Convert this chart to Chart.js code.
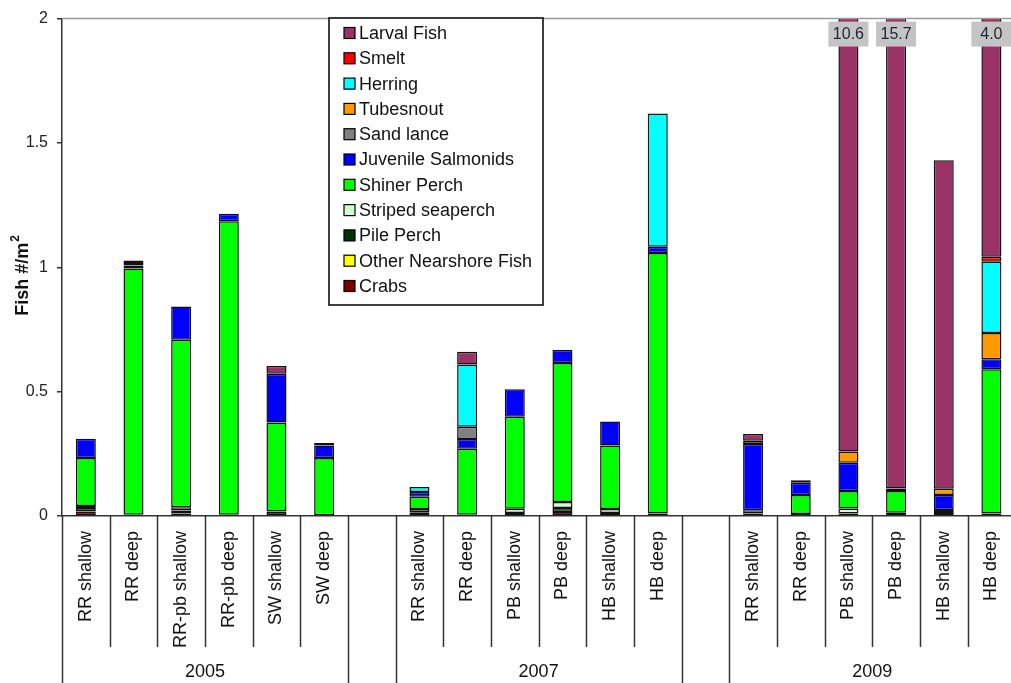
<!DOCTYPE html>
<html lang="en">
<head>
<meta charset="UTF-8" />
<title>Fish density by site</title>
<script src="https://cdn.jsdelivr.net/npm/chart.js@4.4.0/dist/chart.umd.min.js"></script>
<style>
  html, body { margin: 0; padding: 0; background: #fff; overflow: hidden; }
  #fishChart { display: block; }
</style>
</head>
<body>
<canvas id="fishChart" width="1020" height="683"></canvas>
<script>
// categories ('' = gap between years)
const sites = [
  "RR shallow", "RR deep", "RR-pb shallow", "RR-pb deep", "SW shallow", "SW deep", "",
  "RR shallow", "RR deep", "PB shallow", "PB deep", "HB shallow", "HB deep", "",
  "RR shallow", "RR deep", "PB shallow", "PB deep", "HB shallow", "HB deep"
];
const years = ["2005", "2007", "2009"];
const yearStart = [0, 7, 14];
const yearSize = 6;
const yTicks = [0, 0.5, 1, 1.5, 2];

// series, bottom of the stack first
const crabs     = [0.018, 0, 0.01, 0, 0, 0, null, 0, 0, 0, 0.016, 0, 0, null, 0, 0, 0, 0, 0, 0];
const otherFish = [0, 0, 0, 0, 0, 0, null, 0, 0, 0, 0, 0, 0, null, 0, 0, 0, 0, 0, 0];
const pilePerch = [0.014, 0.005, 0.012, 0.005, 0.018, 0, null, 0.015, 0.005, 0.012, 0.016, 0.012, 0.01, null, 0.01, 0.008, 0.01, 0.013, 0.012, 0.01];
const striped   = [0.008, 0, 0.013, 0, 0, 0, null, 0.013, 0, 0.017, 0.024, 0.016, 0, null, 0.013, 0, 0.02, 0, 0.012, 0];
const shiner    = [0.193, 0.99, 0.674, 1.18, 0.358, 0.233, null, 0.049, 0.265, 0.37, 0.559, 0.255, 1.048, null, 0, 0.076, 0.071, 0.088, 0, 0.58];
const juvenile  = [0.078, 0.012, 0.133, 0.03, 0.196, 0.05, null, 0.02, 0.04, 0.111, 0.052, 0.097, 0.025, null, 0.267, 0.05, 0.113, 0.01, 0.06, 0.04];
const sandLance = [0, 0, 0, 0, 0, 0.011, null, 0, 0.049, 0, 0, 0, 0, null, 0, 0.01, 0, 0, 0, 0];
const tubesnout = [0, 0, 0, 0, 0, 0, null, 0, 0, 0, 0, 0, 0, null, 0.013, 0, 0.045, 0, 0.026, 0.106];
const herring   = [0, 0.01, 0, 0, 0, 0, null, 0.02, 0.25, 0, 0, 0, 0.535, null, 0, 0, 0, 0, 0, 0.286];
const smelt     = [0, 0, 0, 0, 0, 0, null, 0, 0, 0, 0, 0, 0, null, 0, 0, 0, 0, 0, 0.02];
const larval    = [0, 0.01, 0, 0, 0.031, 0, null, 0, 0.051, 0, 0, 0, 0, null, 0.027, 0, 10.34, 15.59, 1.32, 2.958];

const seriesNames = ["Crabs", "Other Nearshore Fish", "Pile Perch", "Striped seaperch", "Shiner Perch",
  "Juvenile Salmonids", "Sand lance", "Tubesnout", "Herring", "Smelt", "Larval Fish"];
const seriesData = [crabs, otherFish, pilePerch, striped, shiner, juvenile, sandLance, tubesnout, herring, smelt, larval];
const seriesColors = ["#800000", "#FFFF00", "#003300", "#CCFFCC", "#00FF00",
  "#0000FF", "#808080", "#FF9900", "#00FFFF", "#FF0000", "#993366"];

const FONT = "'Liberation Sans', Arial, sans-serif";
const Y_MAX = 2;

const datasets = seriesNames.map((name, i) => ({
  label: name,
  data: seriesData[i].map(v => (v ? v : null)),
  backgroundColor: seriesColors[i],
  borderColor: "#111",
  borderWidth: 1.5,
  borderSkipped: false,
  barPercentage: 0.42,
  categoryPercentage: 1,
  stack: "s"
}));

const extrasPlugin = {
  id: "extras",
  afterDraw(chart) {
    const ctx = chart.ctx;
    const area = chart.chartArea;
    const xs = chart.scales.x;
    const w = (area.right - area.left) / sites.length;
    ctx.save();

    // top frame line
    ctx.strokeStyle = "#9a9a9a";
    ctx.lineWidth = 1.5;
    ctx.beginPath();
    ctx.moveTo(area.left, area.top);
    ctx.lineTo(area.right, area.top);
    ctx.stroke();

    // category separators
    const longEdges = [];
    yearStart.forEach(s => { longEdges.push(s, s + yearSize); });
    ctx.strokeStyle = "#333";
    ctx.lineWidth = 1.5;
    for (let i = 0; i <= sites.length; i++) {
      const x = Math.round(area.left + i * w) + 0.5;
      const long = longEdges.includes(i);
      ctx.beginPath();
      ctx.moveTo(x, area.bottom);
      ctx.lineTo(x, long ? chart.height : area.bottom + 131);
      ctx.stroke();
    }

    // year labels
    ctx.fillStyle = "#111";
    ctx.font = "18px " + FONT;
    ctx.textAlign = "center";
    ctx.textBaseline = "middle";
    years.forEach((yr, k) => {
      const x0 = area.left + yearStart[k] * w;
      const x1 = area.left + (yearStart[k] + yearSize) * w;
      ctx.fillText(yr, (x0 + x1) / 2, 672);
    });

    // totals above the axis max
    sites.forEach((s, idx) => {
      let total = 0;
      seriesData.forEach(arr => { total += arr[idx] || 0; });
      if (total > Y_MAX) {
        const cx = xs.getPixelForValue(idx);
        ctx.fillStyle = "#c4c4c4";
        ctx.fillRect(cx - 20, area.top + 3, 40, 25);
        ctx.fillStyle = "#1c2433";
        ctx.font = "16px " + FONT;
        ctx.textAlign = "center";
        ctx.textBaseline = "middle";
        ctx.fillText(total.toFixed(1), cx, area.top + 16);
      }
    });

    // legend box
    const lx = 329, ly = 18, lw = 214, lh = 287;
    ctx.fillStyle = "#fff";
    ctx.fillRect(lx, ly, lw, lh);
    ctx.strokeStyle = "#000";
    ctx.lineWidth = 1.5;
    ctx.strokeRect(lx, ly, lw, lh);
    ctx.font = "18px " + FONT;
    ctx.textAlign = "left";
    ctx.textBaseline = "middle";
    for (let j = 0; j < seriesNames.length; j++) {
      const i = seriesNames.length - 1 - j;
      const yc = 33 + j * 25.3;
      ctx.fillStyle = seriesColors[i];
      ctx.fillRect(344, yc - 5.5, 11, 11);
      ctx.strokeStyle = "#000";
      ctx.lineWidth = 1.2;
      ctx.strokeRect(344, yc - 5.5, 11, 11);
      ctx.fillStyle = "#111";
      ctx.fillText(seriesNames[i], 359, yc + 1);
    }

    // y axis title with superscript
    ctx.translate(22, 276);
    ctx.rotate(-Math.PI / 2);
    ctx.fillStyle = "#111";
    ctx.font = "bold 18px " + FONT;
    const main = "Fish #/m";
    const mw = ctx.measureText(main).width;
    ctx.font = "bold 12px " + FONT;
    const sw = ctx.measureText("2").width;
    const start = -(mw + sw) / 2;
    ctx.font = "bold 18px " + FONT;
    ctx.textAlign = "left";
    ctx.fillText(main, start, 1);
    ctx.font = "bold 12px " + FONT;
    ctx.fillText("2", start + mw + 1, -6);
    ctx.restore();
  }
};

new Chart(document.getElementById("fishChart"), {
  type: "bar",
  data: { labels: sites, datasets: datasets },
  options: {
    responsive: false,
    animation: false,
    layout: { padding: { top: 15, left: 0, right: 0, bottom: 0 } },
    plugins: {
      legend: { display: false },
      tooltip: { enabled: false }
    },
    scales: {
      x: {
        stacked: true,
        grid: { display: false },
        border: { display: true, color: "#333", width: 1.5 },
        ticks: {
          autoSkip: false,
          maxRotation: 90,
          minRotation: 90,
          padding: 7,
          color: "#111",
          font: { family: FONT, size: 18 }
        },
        afterFit(scale) { scale.height = 167; }
      },
      y: {
        stacked: true,
        min: 0,
        max: Y_MAX,
        afterBuildTicks(scale) { scale.ticks = yTicks.map(v => ({ value: v })); },
        grid: { display: true, drawOnChartArea: false, tickLength: 5, color: "#333", lineWidth: 1.5 },
        border: { display: true, color: "#333", width: 1.5 },
        ticks: {
          padding: 9,
          color: "#222",
          font: { family: FONT, size: 16 },
          callback: v => String(v)
        },
        afterFit(scale) { scale.width = 62; }
      }
    }
  },
  plugins: [extrasPlugin]
});
</script>
</body>
</html>
